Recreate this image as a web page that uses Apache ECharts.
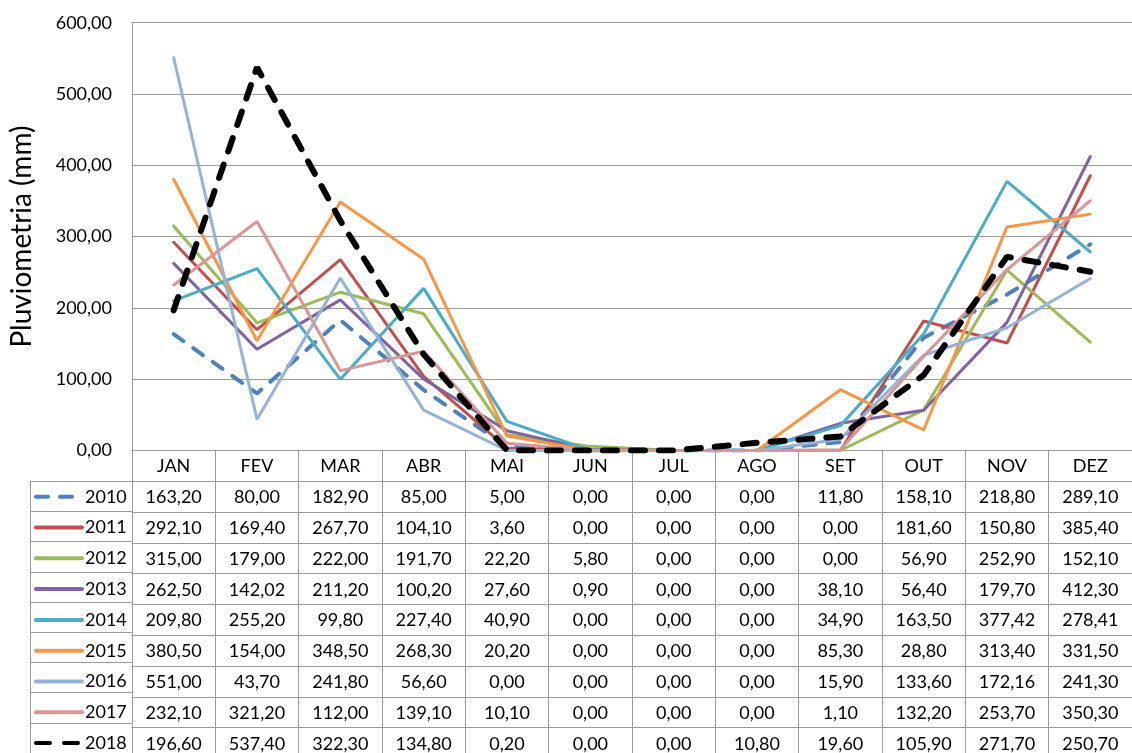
<!DOCTYPE html>
<html>
<head>
<meta charset="utf-8">
<script src="https://cdn.jsdelivr.net/npm/echarts@6/dist/echarts.min.js"></script>
<style>
html,body{margin:0;padding:0;background:#fff;}
#chart{width:1132px;height:753px;}
</style>
</head>
<body>
<div id="chart"></div>
<script>
const months = ['JAN','FEV','MAR','ABR','MAI','JUN','JUL','AGO','SET','OUT','NOV','DEZ'];
const years = ['2010','2011','2012','2013','2014','2015','2016','2017','2018'];
const y2010 = [163.20, 80.00, 182.90, 85.00, 5.00, 0.00, 0.00, 0.00, 11.80, 158.10, 218.80, 289.10];
const y2011 = [292.10, 169.40, 267.70, 104.10, 3.60, 0.00, 0.00, 0.00, 0.00, 181.60, 150.80, 385.40];
const y2012 = [315.00, 179.00, 222.00, 191.70, 22.20, 5.80, 0.00, 0.00, 0.00, 56.90, 252.90, 152.10];
const y2013 = [262.50, 142.02, 211.20, 100.20, 27.60, 0.90, 0.00, 0.00, 38.10, 56.40, 179.70, 412.30];
const y2014 = [209.80, 255.20, 99.80, 227.40, 40.90, 0.00, 0.00, 0.00, 34.90, 163.50, 377.42, 278.41];
const y2015 = [380.50, 154.00, 348.50, 268.30, 20.20, 0.00, 0.00, 0.00, 85.30, 28.80, 313.40, 331.50];
const y2016 = [551.00, 43.70, 241.80, 56.60, 0.00, 0.00, 0.00, 0.00, 15.90, 133.60, 172.16, 241.30];
const y2017 = [232.10, 321.20, 112.00, 139.10, 10.10, 0.00, 0.00, 0.00, 1.10, 132.20, 253.70, 350.30];
const y2018 = [196.60, 537.40, 322.30, 134.80, 0.20, 0.00, 0.00, 10.80, 19.60, 105.90, 271.70, 250.70];
const yTicks = [0, 100, 200, 300, 400, 500, 600];

const allData = [y2010, y2011, y2012, y2013, y2014, y2015, y2016, y2017, y2018];
const colors = ['#4F81BD','#C0504D','#9BBB59','#8064A2','#4BACC6','#F79646','#95B3D7','#D99694','#000000'];
const fmt = v => Number(v).toFixed(2).replace('.', ',');

const FONT = 'Lato';
const FS = 18;
const GRID_LEFT = 131.7, GRID_TOP = 22.7, ZERO_Y = 450.5;
const ROW_H = 30.8;
const LINE_C = '#9a9a9a';

const xAxes = [];
for (let r = 0; r <= years.length; r++) {
  xAxes.push({
    type: 'category',
    gridIndex: 0,
    position: 'bottom',
    offset: r * ROW_H,
    data: months,
    boundaryGap: true,
    axisLine: {show: true, lineStyle: {color: LINE_C, width: 1}},
    axisTick: {show: true, interval: 0, length: ROW_H, lineStyle: {color: LINE_C, width: 1}},
    axisLabel: {
      show: true, interval: 0, margin: 7, color: '#000', fontFamily: FONT, fontSize: FS, lineHeight: 18,
      formatter: r === 0 ? (v => v) : ((v, idx) => fmt(allData[r - 1][idx]))
    },
    splitLine: {show: false}
  });
}
xAxes.push({type: 'value', gridIndex: 1, show: false, min: 0, max: 1});

const series = years.map((y, i) => {
  let ls = {color: colors[i], width: 3, type: 'solid', cap: 'round'};
  if (i === 0) ls = {color: colors[i], width: 4, type: [12, 12], cap: 'round'};
  if (i === 8) ls = {color: colors[i], width: 6, type: [14, 14], cap: 'round'};
  return {
    name: y, type: 'line', xAxisIndex: 0, yAxisIndex: 0,
    data: allData[i], symbol: 'none', showSymbol: false, smooth: false,
    lineStyle: ls, itemStyle: {color: colors[i]},
    emphasis: {disabled: true}, animation: false
  };
});

const chart = echarts.init(document.getElementById('chart'), null, {renderer: 'canvas'});
chart.setOption({
  animation: false,
  backgroundColor: '#fff',
  grid: [
    {left: GRID_LEFT, right: -10.6, top: GRID_TOP, bottom: 753 - ZERO_Y, containLabel: false},
    {left: 30, width: GRID_LEFT - 30, top: ZERO_Y + ROW_H, height: ROW_H * years.length, containLabel: false}
  ],
  legend: {
    orient: 'vertical', left: 34, top: ZERO_Y + ROW_H + ROW_H / 2 - 9,
    padding: 0, itemWidth: 46, itemHeight: 18, itemGap: ROW_H - 18,
    itemStyle: {opacity: 0, borderWidth: 0},
    lineStyle: {width: 4},
    textStyle: {fontFamily: FONT, fontSize: FS, color: '#000', padding: [0, 0, 0, -2]},
    data: years, selectedMode: false
  },
  xAxis: xAxes,
  yAxis: [
    {
      type: 'value', gridIndex: 0, min: yTicks[0], max: yTicks[yTicks.length - 1], interval: 100,
      name: 'Pluviometria (mm)', nameLocation: 'middle', nameRotate: 90, nameGap: 96,
      nameTextStyle: {fontFamily: FONT, fontSize: 28, color: '#000'},
      axisLine: {show: true, lineStyle: {color: LINE_C, width: 1}},
      axisTick: {show: false},
      axisLabel: {formatter: v => fmt(v), color: '#000', fontFamily: FONT, fontSize: FS, margin: 20},
      splitLine: {show: true, lineStyle: {color: LINE_C, width: 1}}
    },
    {
      type: 'category', gridIndex: 1, data: years, inverse: true, boundaryGap: true,
      axisLine: {show: true, lineStyle: {color: LINE_C, width: 1}},
      axisTick: {show: false}, axisLabel: {show: false},
      splitLine: {show: true, interval: 0, lineStyle: {color: LINE_C, width: 1}}
    }
  ],
  series: series
});
</script>
</body>
</html>
